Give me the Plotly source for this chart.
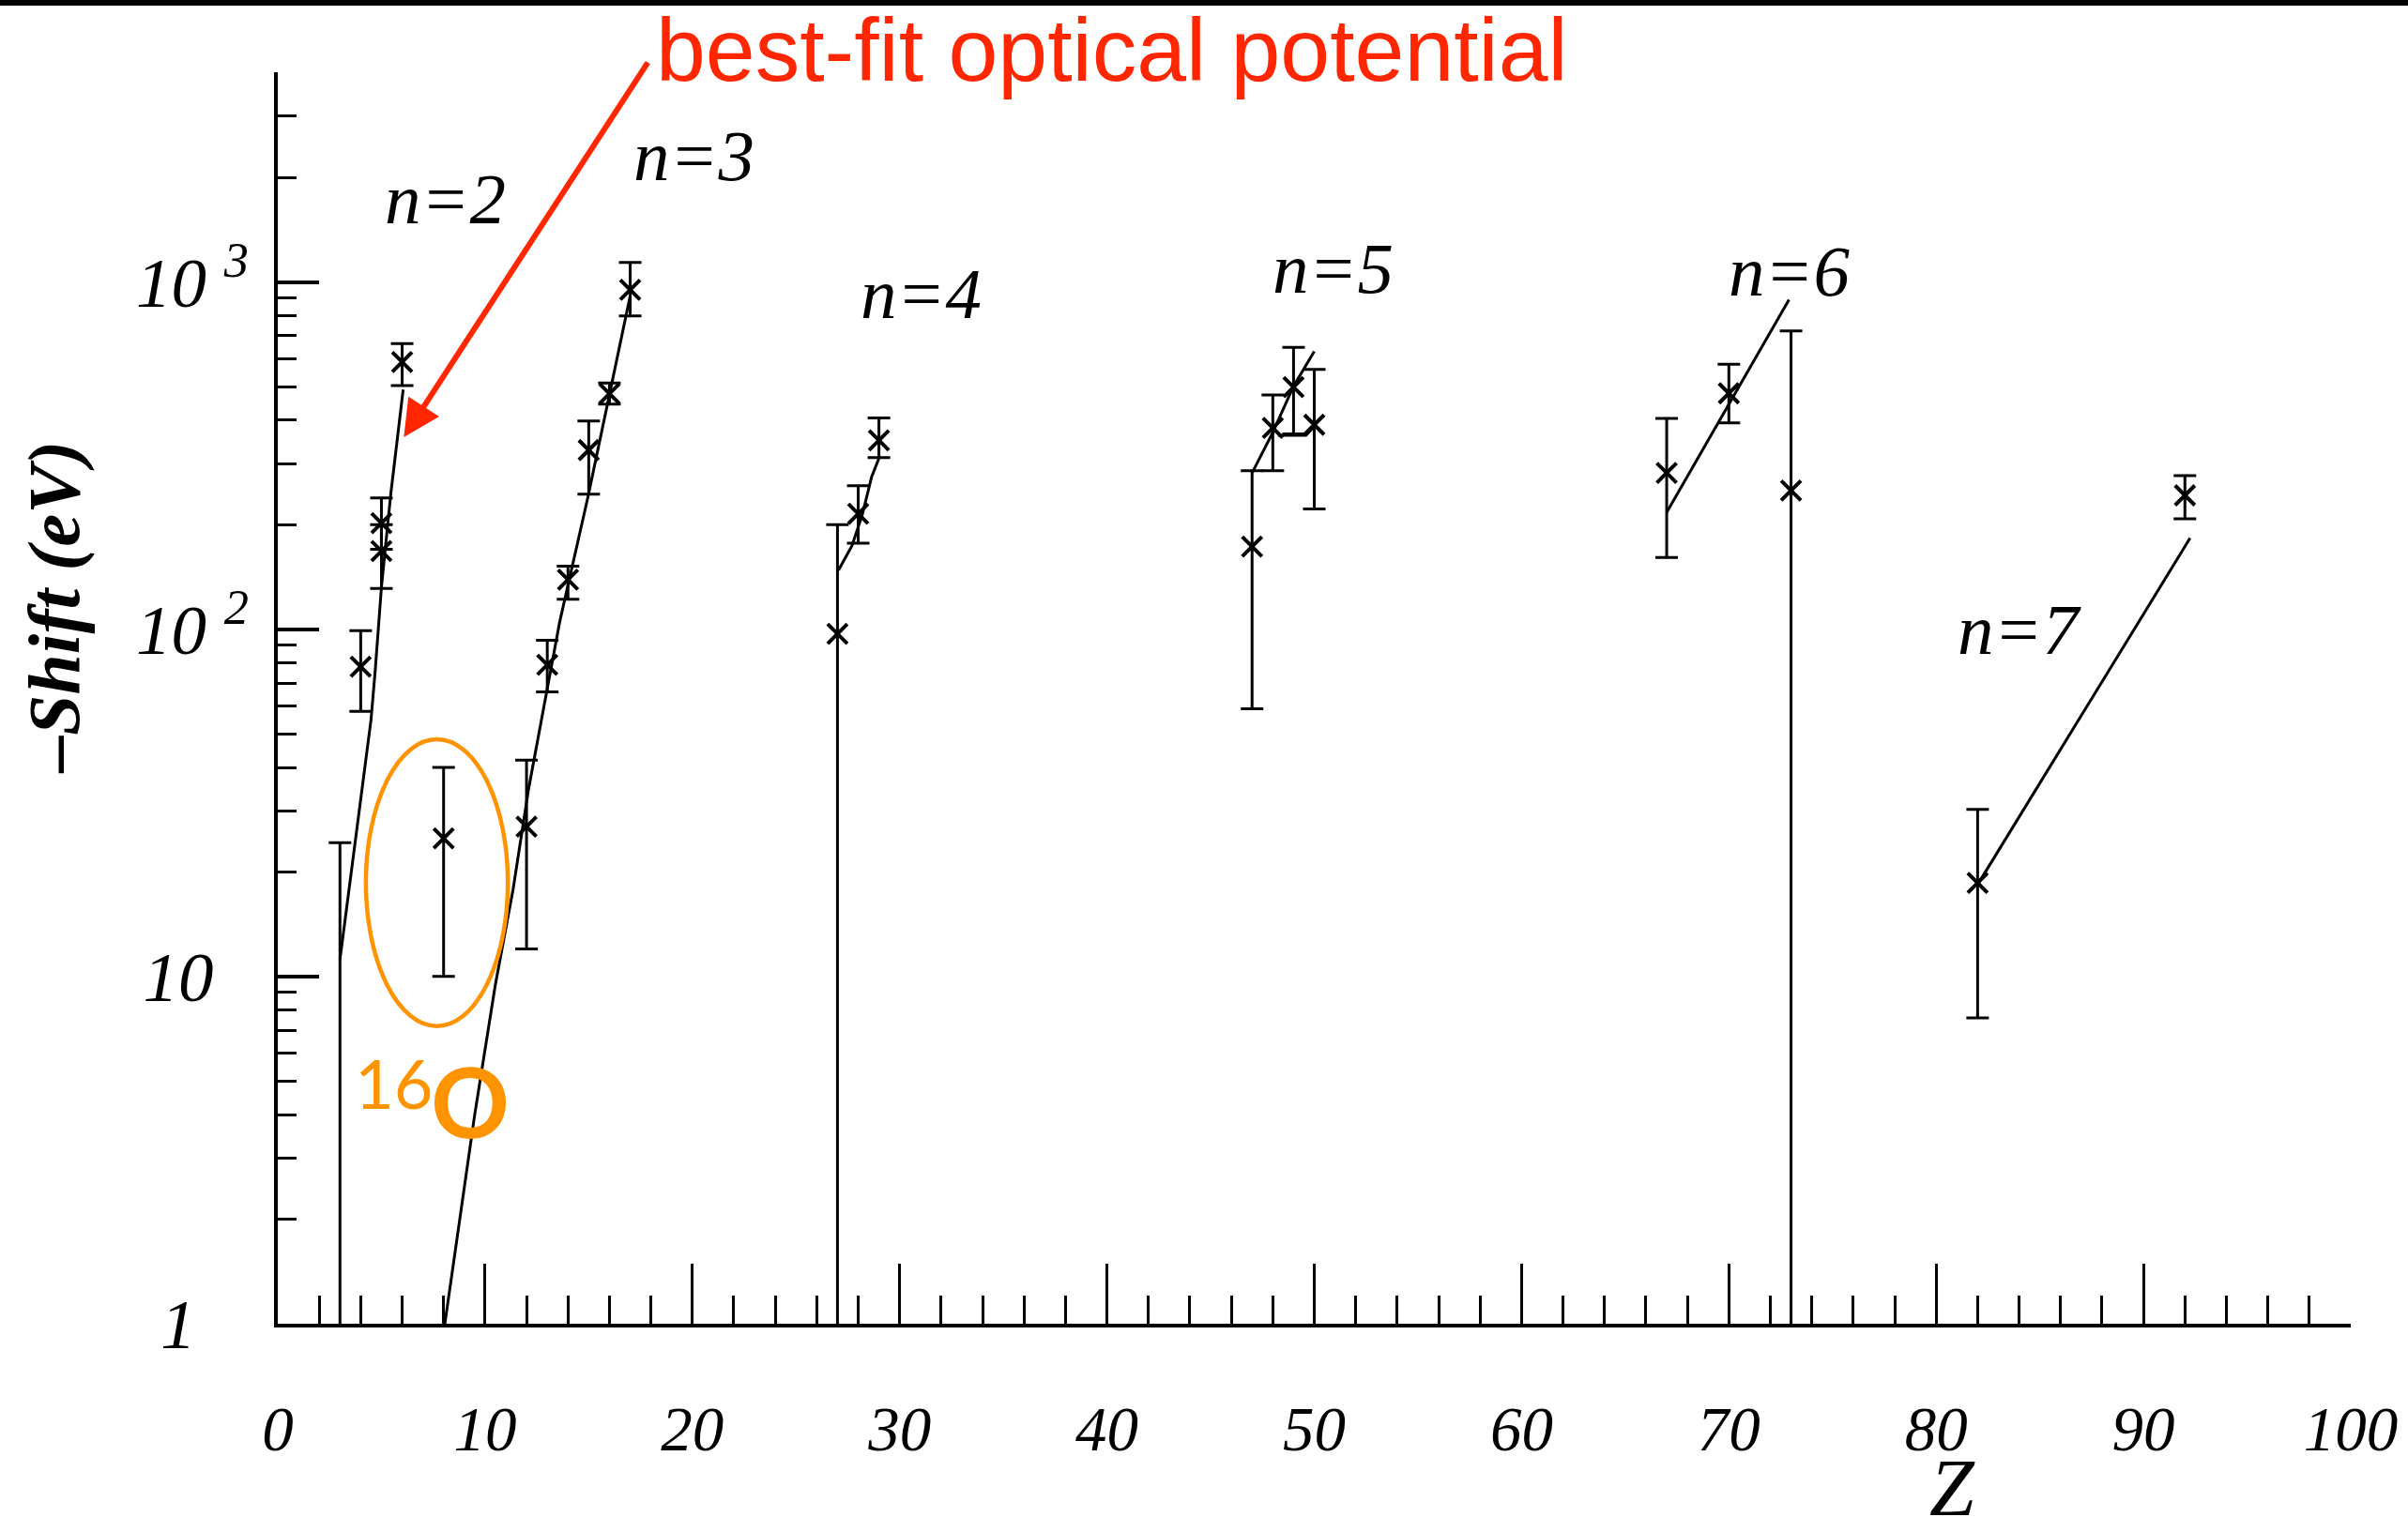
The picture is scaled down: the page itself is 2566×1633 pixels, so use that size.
import numpy as np
import plotly.graph_objects as go

# ---- measured level shifts, -Shift (eV) vs Z, grouped by principal quantum number n ----
# value, upper bound and lower bound of each error bar
n2_z = [3, 4, 5, 5, 6]
n2_shift = [0.5, 78, 202, 168, 588]
n2_hi = [24.3, 99, 239, 200, 665]
n2_lo = [0.2, 58, 170, 131, 503]

n3_z = [8, 12, 13, 14, 15, 16, 17]
n3_shift = [25, 27, 79, 139, 328, 477, 950]
n3_hi = [40, 42, 93, 152, 398, 512, 1138]
n3_lo = [10, 12, 66, 122, 245, 445, 798]

n4_z = [27, 28, 29]
n4_shift = [97, 215, 350]
n4_hi = [200, 259, 406]
n4_lo = [0.2, 177, 312]

n5_z = [47, 48, 49, 50]
n5_shift = [173, 380, 498, 388]
n5_hi = [286, 473, 648, 560]
n5_lo = [59, 286, 365, 222]

n6_z = [67, 70, 73]
n6_shift = [282, 478, 251]
n6_hi = [405, 580, 723]
n6_lo = [161, 393, 0.2]

n7_z = [82, 92]
n7_shift = [18.6, 243]
n7_hi = [30.3, 277]
n7_lo = [7.6, 208]

# ---- best-fit optical potential curves ----
fit_n2_z = [3.0, 4.5, 4.7, 5.0, 5.45, 6.05]
fit_n2_shift = [11.2, 55, 76, 132, 245, 490]

fit_n3_z = [7.95, 9.5, 10.5, 11.35, 12.1, 12.85, 13.6, 14.96, 16.77, 17.0]
fit_n3_shift = [0.9, 4.0, 9.5, 17.8, 34.7, 60, 105, 240, 794, 912]

fit_n4_z = [27.05, 27.7, 28.2, 28.65, 29.05]
fit_n4_shift = [148, 174, 214, 275, 316]

fit_n5_z = [47.0, 48.0, 49.0, 50.0]
fit_n5_shift = [282, 369, 501, 631]
fit_n5b_z = [48.25, 49.6, 49.9]
fit_n5b_shift = [362, 362, 378]

fit_n6_z = [67.0, 72.9]
fit_n6_shift = [217, 889]

fit_n7_z = [82.05, 92.25]
fit_n7_shift = [18.6, 183]

# ---- labels ----
n_labels = ["n=2", "n=3", "n=4", "n=5", "n=6", "n=7"]
n_label_z = [8.07, 20.07, 31.04, 50.9, 72.9, 84.0]
n_label_shift = [1734, 2307, 923, 1096, 1074, 100]

x_tickvals = [0, 10, 20, 30, 40, 50, 60, 70, 80, 90, 100]
y_tickvals = [1, 10, 100, 1000]
NB = "\u00a0"
y_ticktext = ["1" + NB * 3, "10" + NB * 2, "10 <sup>2</sup>", "10 <sup>3</sup>"]
y_minor = [2, 3, 4, 5, 6, 7, 8, 9, 20, 30, 40, 50, 60, 70, 80, 90,
           200, 300, 400, 500, 600, 700, 800, 900, 2000, 3000, 4000]

SERIF = "Liberation Serif"
RED = "#FF2600"
ORANGE = "#FF9300"

W, H = 2566, 1633
ML, MR, MT, MB = 296, 61, 77, 222
PW, PH = W - ML - MR, H - MT - MB

fig = go.Figure()

groups = [
    (n2_z, n2_shift, n2_hi, n2_lo),
    (n3_z, n3_shift, n3_hi, n3_lo),
    (n4_z, n4_shift, n4_hi, n4_lo),
    (n5_z, n5_shift, n5_hi, n5_lo),
    (n6_z, n6_shift, n6_hi, n6_lo),
    (n7_z, n7_shift, n7_hi, n7_lo),
]
fits = [
    (fit_n2_z, fit_n2_shift),
    (fit_n3_z, fit_n3_shift),
    (fit_n4_z, fit_n4_shift),
    (fit_n5_z, fit_n5_shift),
    (fit_n5b_z, fit_n5b_shift),
    (fit_n6_z, fit_n6_shift),
    (fit_n7_z, fit_n7_shift),
]

for fz, fs in fits:
    fig.add_trace(go.Scatter(
        x=fz, y=fs, mode="lines",
        line=dict(color="black", width=3),
        showlegend=False, hoverinfo="skip",
    ))

for z, s, hi, lo in groups:
    s_arr = np.array(s, dtype=float)
    fig.add_trace(go.Scatter(
        x=z, y=s, mode="markers",
        marker=dict(symbol="x-thin", size=21, color="black",
                    line=dict(color="black", width=4)),
        error_y=dict(type="data", symmetric=False,
                     array=list(np.array(hi) - s_arr),
                     arrayminus=list(s_arr - np.array(lo)),
                     color="black", thickness=3, width=12),
        showlegend=False,
    ))

annotations = []
for txt, zx, sy in zip(n_labels, n_label_z, n_label_shift):
    annotations.append(dict(
        x=zx, y=np.log10(sy), xref="x", yref="y", text=txt, showarrow=False,
        xanchor="center", yanchor="middle",
        font=dict(family=SERIF, size=77, color="black", style="italic"),
    ))

# red call-out text and arrow
annotations.append(dict(
    x=(697 - ML) / PW, y=(H - MB - 53) / PH, xref="paper", yref="paper",
    xanchor="left", yanchor="middle", showarrow=False,
    text="best-fit optical potential",
    font=dict(family="Liberation Sans", size=95, color=RED),
))
annotations.append(dict(
    x=6.08, y=2.553, xref="x", yref="y", text="", showarrow=True,
    ax=261, ay=-401, axref="pixel", ayref="pixel",
    arrowhead=2, arrowsize=1.3, arrowwidth=6, arrowcolor=RED,
))

# 16O marker text
annotations.append(dict(
    x=5.63, y=0.694, xref="x", yref="y", text="16", showarrow=False,
    xanchor="center", yanchor="middle",
    font=dict(family="Lato", size=72, color=ORANGE),
))
annotations.append(dict(
    x=9.26, y=0.645, xref="x", yref="y", text="<b>O</b>", showarrow=False,
    xanchor="center", yanchor="middle",
    font=dict(family="Lato", size=104, color=ORANGE),
))

# axis titles
annotations.append(dict(
    x=(57 - ML) / PW, y=(H - MB - 648) / PH, xref="paper", yref="paper",
    xanchor="center", yanchor="middle",
    text="<b>–Shift (eV)</b>", textangle=-90, showarrow=False,
    font=dict(family=SERIF, size=78, color="black", style="italic"),
))
annotations.append(dict(
    x=80.8, y=(H - MB - 1586) / PH, xref="x", yref="paper",
    xanchor="center", yanchor="middle",
    text="Z", showarrow=False,
    font=dict(family=SERIF, size=86, color="black", style="italic"),
))

shapes = [
    # highlight ellipse around the Z = 8 point
    dict(type="circle", xref="x", yref="y", x0=4.25, x1=11.10, y0=7.2, y1=48.2,
         line=dict(color=ORANGE, width=4.5), layer="above"),
    # black rule along the top edge
    dict(type="rect", xref="paper", yref="paper",
         x0=-ML / PW, x1=(W - ML) / PW,
         y0=(H - MB - 6) / PH, y1=(H - MB + 2) / PH,
         fillcolor="black", line=dict(width=0)),
]

fig.update_layout(
    width=W, height=H,
    margin=dict(l=ML, r=MR, t=MT, b=MB, pad=0),
    paper_bgcolor="white", plot_bgcolor="white",
    showlegend=False,
    annotations=annotations,
    shapes=shapes,
    xaxis=dict(
        range=[0, 100], showgrid=False, zeroline=False,
        showline=True, linecolor="black", linewidth=4,
        tickmode="array", tickvals=x_tickvals,
        ticks="inside", ticklen=64, tickwidth=3, tickcolor="black",
        minor=dict(ticks="inside", dtick=2, tick0=0, ticklen=30, tickwidth=3,
                   tickcolor="black", showgrid=False),
        tickfont=dict(family=SERIF, size=67, color="black", style="italic"),
        ticklabelstandoff=51, automargin=False,
    ),
    yaxis=dict(
        type="log", range=[0, np.log10(4000) + 0.002], showgrid=False, zeroline=False,
        showline=True, linecolor="black", linewidth=4,
        tickmode="array", tickvals=y_tickvals, ticktext=y_ticktext,
        ticks="inside", ticklen=44, tickwidth=4, tickcolor="black",
        minor=dict(ticks="inside", tickmode="array", tickvals=y_minor, ticklen=20,
                   tickwidth=3, tickcolor="black", showgrid=False),
        tickfont=dict(family=SERIF, size=75, color="black", style="italic"),
        ticklabelstandoff=12, automargin=False,
    ),
)

fig.write_html("out.html")
